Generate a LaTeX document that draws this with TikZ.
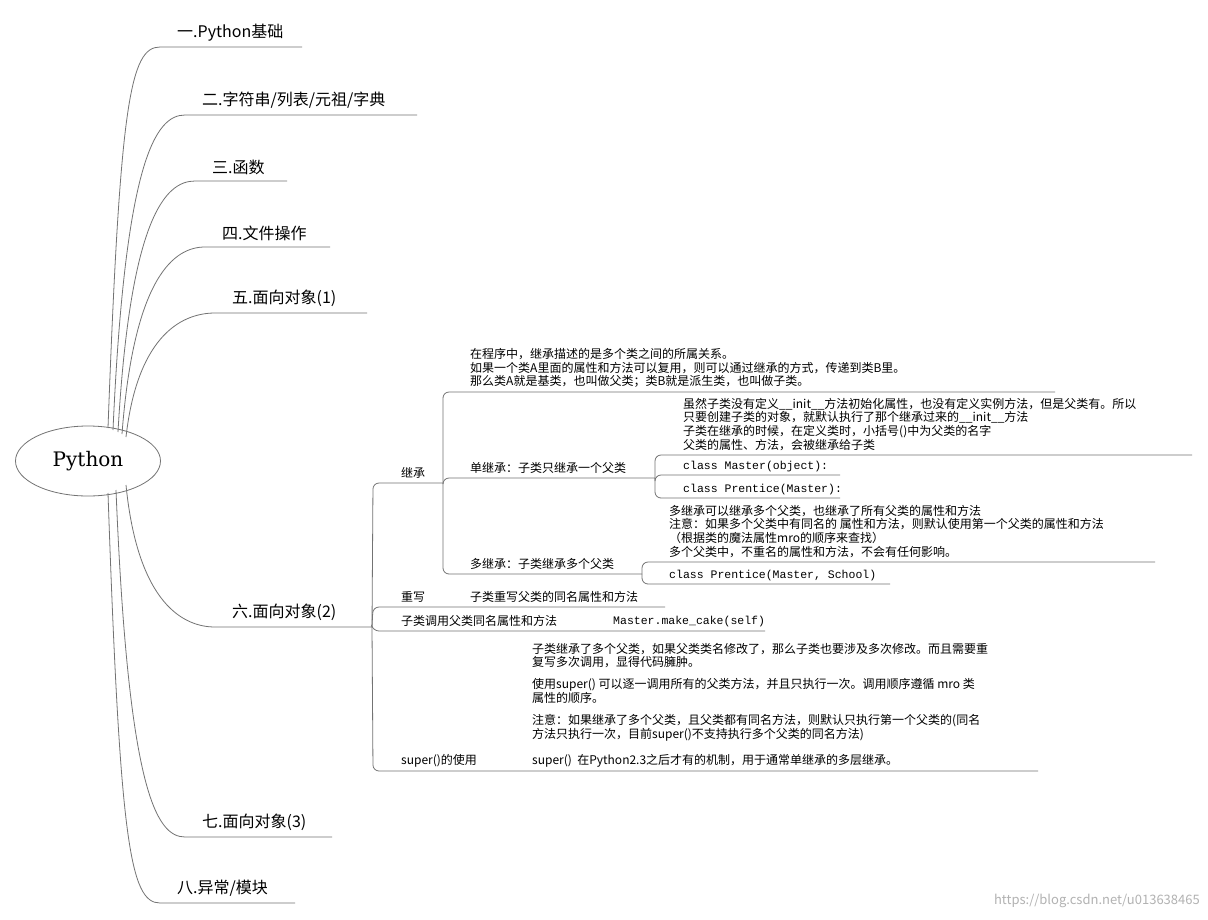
\documentclass[tikz,border=0pt]{standalone}
\usetikzlibrary{shapes.geometric}
\usepackage{fontspec}
\setmainfont{Noto Sans CJK SC}
\newfontfamily\mono{Liberation Mono}
\newfontfamily\rootf{DejaVu Serif}
\begin{document}
\begin{tikzpicture}[x=1pt,y=-1pt,
  ln/.style={draw=black!55,line width=0.8pt},
  br/.style={ln,rounded corners=6pt},
  top/.style={anchor=south west,inner sep=0pt,font=\fontsize{16}{18}\selectfont},
  lbl/.style={anchor=south west,inner sep=0pt,align=left,font=\fontsize{12}{13.8}\selectfont},
  cd/.style={anchor=south west,inner sep=0pt,font=\mono\fontsize{11.5}{13}\selectfont}]
\useasboundingbox (0,0) rectangle (1208,919);
\fill[white] (0,0) rectangle (1208,919);
\node[ellipse,draw=black!55,line width=0.8pt,minimum width=145pt,minimum height=70pt,font=\rootf\fontsize{20}{22}\selectfont] (root) at (88,461) {Python};
% main branches
\foreach \n/\xs/\xe/\yy/\t/\ox/\oy in {
 a/160/302/47/{一.Python基础}/108/428,
 b/185/417/115/{二.字符串/列表/元祖/字典}/113/430,
 c/195/287/181/{三.函数}/118/432,
 d/205/330/247/{四.文件操作}/122/434,
 e/215/367/313/{五.面向对象(1)}/126/437,
 f/215/372/627/{六.面向对象(2)}/126/485,
 g/185/332/837/{七.面向对象(3)}/116/490,
 h/160/295/903/{八.异常/模块}/108/493}{
 \coordinate (\n s) at (\xs,\yy);
 \coordinate (\n e) at (\xe,\yy);
 \coordinate (\n o) at (\ox,\oy);
 \draw[ln] (\n o) .. controls (\ox+12,{\yy+(\oy-\yy)*0.15}) and ({\xs-30},\yy) .. (\n s) -- (\n e);
 \node[top] (\n t) at ({\xs+17},{\yy-6}) {\t};
}
% level 2 under 六
\coordinate (jc) at (443,483);
\draw[br] (fe) -- (373,483) -- (jc);
\node[lbl] (jct) at (401,479) {继承};
\draw[br] (fe) -- (373,607) -- (665,607);
\node[lbl] (cx) at (401,603) {重写};
\node[lbl] (cxd) at (470,603) {子类重写父类的同名属性和方法};
\draw[br] (fe) -- (373,631) -- (765,631);
\node[lbl] (dy) at (401,627) {子类调用父类同名属性和方法};
\node[cd] (dyc) at (613,627) {Master.make\_cake(self)};
\draw[br] (fe) -- (373,771) -- (1038,771);
\node[lbl] (sp) at (401,767) {super()的使用};
\node[lbl] (spd) at (532,767) {super()\ \ 在Python2.3之后才有的机制，用于通常单继承的多层继承。};
\node[lbl] (spt) at (532,741) {子类继承了多个父类，如果父类类名修改了，那么子类也要涉及多次修改。而且需要重\\复写多次调用，显得代码臃肿。\\[8pt]使用super()\ 可以逐一调用所有的父类方法，并且只执行一次。调用顺序遵循 mro 类\\属性的顺序。\\[8pt]注意：如果继承了多个父类，且父类都有同名方法，则默认只执行第一个父类的(同名\\方法只执行一次，目前super()不支持执行多个父类的同名方法)};
% 继承 children
\draw[br] (jc) -- (443,392) -- (1055,392);
\node[lbl] (jd) at (470,388) {在程序中，继承描述的是多个类之间的所属关系。\\如果一个类A里面的属性和方法可以复用，则可以通过继承的方式，传递到类B里。\\那么类A就是基类，也叫做父类；类B就是派生类，也叫做子类。};
\coordinate (dj) at (655,478);
\draw[br] (jc) -- (443,478) -- (dj);
\node[lbl] (djt) at (470,474) {单继承：子类只继承一个父类};
\coordinate (mj) at (642,574);
\draw[br] (jc) -- (443,574) -- (mj);
\node[lbl] (mjt) at (470,570) {多继承：子类继承多个父类};
% 单继承 children
\draw[br] (dj) -- (655,455) -- (1192,455);
\node[lbl] (djd) at (683,451) {虽然子类没有定义\_\_init\_\_方法初始化属性，也没有定义实例方法，但是父类有。所以\\只要创建子类的对象，就默认执行了那个继承过来的\_\_init\_\_方法\\子类在继承的时候，在定义类时，小括号()中为父类的名字\\父类的属性、方法，会被继承给子类};
\draw[br] (dj) -- (655,475) -- (840,475);
\node[cd] (c1) at (683,472) {class Master(object):};
\draw[br] (dj) -- (655,498) -- (840,498);
\node[cd] (c2) at (683,495) {class Prentice(Master):};
% 多继承 children
\draw[br] (mj) -- (642,562) -- (1155,562);
\node[lbl] (mjd) at (669,558) {多继承可以继承多个父类，也继承了所有父类的属性和方法\\注意：如果多个父类中有同名的 属性和方法，则默认使用第一个父类的属性和方法\\（根据类的魔法属性mro的顺序来查找）\\多个父类中，不重名的属性和方法，不会有任何影响。};
\draw[br] (mj) -- (642,584) -- (890,584);
\node[cd] (c3) at (669,581) {class Prentice(Master, School)};
\node[anchor=south east,inner sep=0pt,text=black!30,font=\fontsize{13}{15}\selectfont] (wm) at (1200,908) {https://blog.csdn.net/u013638465};
\end{tikzpicture}
\end{document}
